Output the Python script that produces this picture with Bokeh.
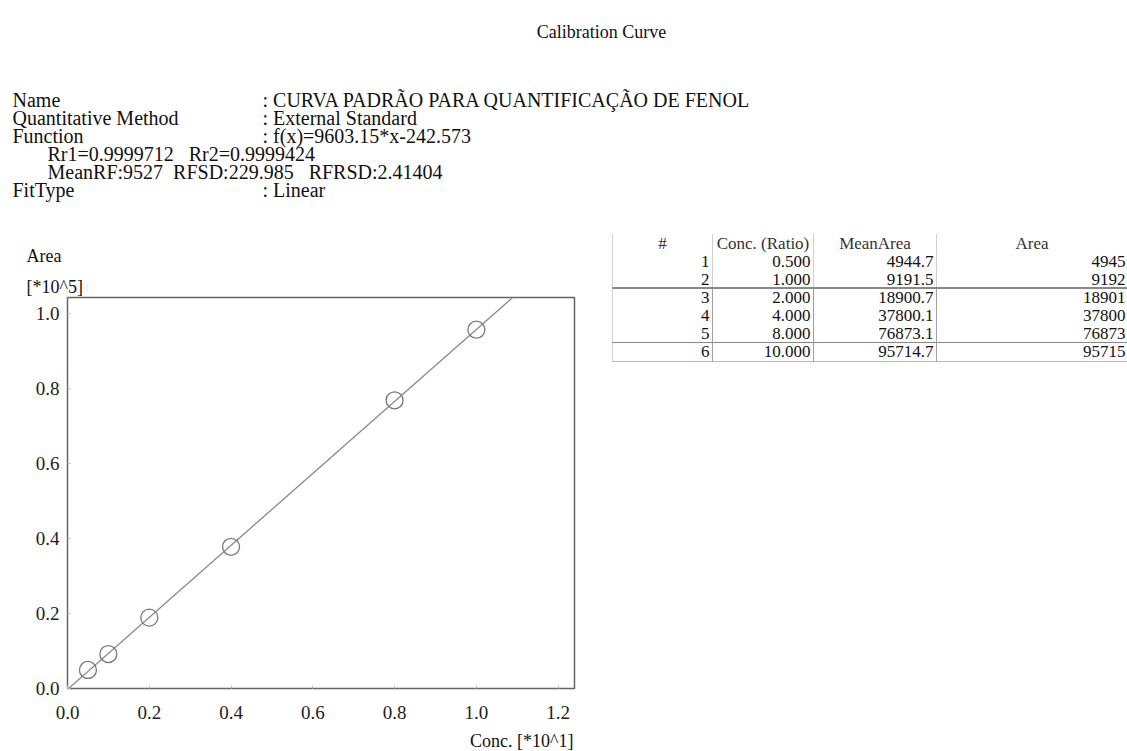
from bokeh.plotting import figure
from bokeh.models import Label, Title, FixedTicker, NumeralTickFormatter
from bokeh.layouts import column, row
from bokeh.embed import file_html
from bokeh.resources import INLINE

# ---------------- data ----------------
conc = [0.5, 1.0, 2.0, 4.0, 8.0, 10.0]
mean_area = [4944.7, 9191.5, 18900.7, 37800.1, 76873.1, 95714.7]
area = [4945, 9192, 18901, 37800, 76873, 95715]
conc_str = ["0.500", "1.000", "2.000", "4.000", "8.000", "10.000"]
mean_str = ["4944.7", "9191.5", "18900.7", "37800.1", "76873.1", "95714.7"]
area_str = ["4945", "9192", "18901", "37800", "76873", "95715"]
slope = 9603.15
intercept = -242.573
x_scale = 10.0      # Conc. [*10^1]
y_scale = 1e5       # Area [*10^5]
x_ticks = [0.0, 0.2, 0.4, 0.6, 0.8, 1.0, 1.2]
y_ticks = [0.0, 0.2, 0.4, 0.6, 0.8, 1.0]
NB = "\u00a0"
header_keys = ["Name", "Quantitative Method", "Function", None, None, "FitType"]
header_vals = [": CURVA PADRÃO PARA QUANTIFICAÇÃO DE FENOL",
               ": External Standard",
               ": f(x)=9603.15*x-242.573",
               "Rr1=0.9999712" + NB * 3 + "Rr2=0.9999424",
               "MeanRF:9527" + NB * 2 + "RFSD:229.985" + NB * 3 + "RFRSD:2.41404",
               ": Linear"]
table_cols = ["#", "Conc. (Ratio)", "MeanArea", "Area"]
x_title = "Conc. [*10^1]"
y_title = "Area\n[*10^5]"

SERIF = "Liberation Serif"
PW, PH = 1127, 751          # page size
HEAD_H = 233                # header strip height
CW = 600                    # chart column width
XT = 730                    # top of the x-title strip
FL, FT, FR, FB = 67, 297, 574, 688   # chart frame edges (page px)


def text_fig(x0, x1, y0, y1):
    f = figure(width=x1 - x0, height=y1 - y0, output_backend="svg", toolbar_location=None,
               x_range=(x0, x1), y_range=(y1, y0), min_border=0, title=None)
    f.axis.visible = False
    f.grid.visible = False
    f.outline_line_color = None
    f.background_fill_color = "white"
    f.border_fill_color = "white"
    return f


def lab(f, X, Y, text, size="20px", align="left", color="#111111"):
    f.add_layout(Label(x=X, y=Y, text=text, text_font=SERIF, text_font_size=size,
                       text_align=align, text_baseline="middle", text_color=color))


# ---------------- header ----------------
head = text_fig(0, PW, 0, HEAD_H)
lab(head, 601, 31, "Calibration Curve", size="18px", align="center")
ys = [99, 117, 135, 153, 171, 189]
for k, v, y in zip(header_keys, header_vals, ys):
    if k is not None:
        lab(head, 12, y, k)
        lab(head, 262, y, v)
    else:
        lab(head, 47, y, v)

# ---------------- chart ----------------
p = figure(width=CW, height=XT - HEAD_H, output_backend="svg", toolbar_location=None,
           title=None, x_range=(0, 1.24), y_range=(0, 1.043),
           min_border_left=FL, min_border_top=FT - HEAD_H,
           min_border_right=CW - FR, min_border_bottom=XT - FB)
p.background_fill_color = "white"
p.border_fill_color = "white"
p.outline_line_color = "#666666"
p.outline_line_width = 1.5
p.grid.visible = False
for ax, ticks in ((p.xaxis, x_ticks), (p.yaxis, y_ticks)):
    ax.ticker = FixedTicker(ticks=ticks)
    ax.formatter = NumeralTickFormatter(format="0.0")
    ax.axis_line_color = None
    ax.major_tick_in = 3
    ax.major_tick_out = 0
    ax.major_tick_line_color = "#bbbbbb"
    ax.minor_tick_line_color = None
    ax.major_label_text_font = SERIF
    ax.major_label_text_font_size = "19px"
    ax.major_label_text_color = "#222222"
p.xaxis.major_label_standoff = 17
p.yaxis.major_label_standoff = 8

p.add_layout(Title(text=y_title, align="left", offset=-41, standoff=1,
                   text_font=SERIF, text_font_size="18px", text_font_style="normal",
                   text_color="#111111", text_line_height=1.55), "above")

xs = [0.0, 13.0]
p.line([x / x_scale for x in xs], [(slope * x + intercept) / y_scale for x in xs],
       line_color="#888888", line_width=1.3)
p.scatter([c / x_scale for c in conc], [a / y_scale for a in area], marker="circle",
          size=17, fill_color=None, line_color="#777777", line_width=1.3)

# x title strip (its frame is aligned with the chart frame: x in page px)
xt = figure(width=CW, height=PH - XT, output_backend="svg", toolbar_location=None,
            x_range=(FL, FR), y_range=(PH, XT), min_border=0, title=None)
xt.axis.visible = False
xt.grid.visible = False
xt.outline_line_color = None
xt.border_fill_color = "white"
lab(xt, 573, 740, x_title, size="18px", align="right")

# ---------------- table ----------------
tab = text_fig(CW, PW, HEAD_H, PH)
col_lines = [612, 712, 813, 936]
col_right = [709, 810, 933, 1125]
row_y = [243, 261, 279, 297, 315, 333, 351]
tsize = "17px"
centers = [(col_lines[0] + col_lines[1]) / 2, (col_lines[1] + col_lines[2]) / 2,
           (col_lines[2] + col_lines[3]) / 2, (col_lines[3] + PW) / 2]
for c, t in zip(centers, table_cols):
    lab(tab, c, row_y[0], t, size=tsize, align="center", color="#333333")
for i in range(len(conc)):
    y = row_y[i + 1]
    lab(tab, col_right[0], y, str(i + 1), size=tsize, align="right")
    lab(tab, col_right[1], y, conc_str[i], size=tsize, align="right")
    lab(tab, col_right[2], y, mean_str[i], size=tsize, align="right")
    lab(tab, col_right[3], y, area_str[i], size=tsize, align="right")

vx = col_lines
tab.segment(x0=vx, y0=[233] * 4, x1=vx, y1=[288] * 4, line_color="#d0d0d0", line_width=1)
tab.segment(x0=vx, y0=[288] * 4, x1=vx, y1=[361] * 4,
            line_color=["#d0d0d0", "#a0a0a0", "#a0a0a0", "#a0a0a0"], line_width=1)
tab.segment(x0=[612, 612], y0=[287.5, 342], x1=[PW, PW], y1=[287.5, 342],
            line_color="#888888", line_width=[2, 1])
tab.segment(x0=[612], y0=[361], x1=[PW], y1=[361], line_color="#bbbbbb", line_width=1)

layout = column(head, row(column(p, xt), tab))
open("out.html", "w").write(file_html(layout, INLINE))
